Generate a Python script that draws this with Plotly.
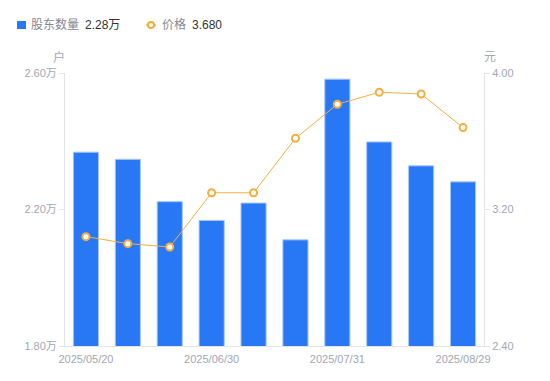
import plotly.graph_objects as go

dates = ["2025/05/20", "2025/05/30", "2025/06/10", "2025/06/30", "2025/07/10",
         "2025/07/20", "2025/07/31", "2025/08/10", "2025/08/20", "2025/08/29"]
holders = [2.368, 2.347, 2.223, 2.168, 2.219, 2.111, 2.582, 2.398, 2.328, 2.281]  # 万户
price = [3.041, 3.000, 2.980, 3.298, 3.298, 3.617, 3.817, 3.887, 3.877, 3.680]
tick_dates = ["2025/05/20", "2025/06/30", "2025/07/31", "2025/08/29"]
left_ticks = [1.80, 2.20, 2.60]
right_ticks = [2.40, 3.20, 4.00]
series_names = ["股东数量", "价格"]

FONT = "Liberation Sans, Noto Sans CJK SC, sans-serif"
BLUE = "#2878f5"
ORANGE = "#f6ad3f"
GRID = "#e3e4e8"
TICK = "#a3a6b4"

OFF = 8  # page body margin
W, H = 550 - OFF, 381 - OFF
L, R, T, B = 65 - OFF, 66, 73 - OFF, 35
PW, PH = W - L - R, H - T - B


def px(x):
    return (x - OFF - L) / PW


def py(y):
    return (H - B - (y - OFF)) / PH


fig = go.Figure()
fig.add_trace(go.Bar(
    x=dates, y=holders, width=0.6, name=series_names[0],
    marker=dict(color=BLUE, line=dict(color="#a8c6fa", width=1)),
    yaxis="y",
))
fig.add_trace(go.Scatter(
    x=dates, y=price, mode="lines+markers", name=series_names[1],
    line=dict(color=ORANGE, width=1),
    marker=dict(symbol="circle", size=7, color="white", line=dict(color=ORANGE, width=2)),
    yaxis="y2",
))

shapes = [
    dict(type="rect", xref="paper", yref="paper", x0=px(17), x1=px(26), y0=py(29), y1=py(21),
         fillcolor=BLUE, line=dict(width=0)),
    dict(type="line", xref="paper", yref="paper", x0=px(146), x1=px(156), y0=py(25), y1=py(25),
         line=dict(color=ORANGE, width=1.5)),
    dict(type="circle", xref="paper", yref="paper", x0=px(148), x1=px(154), y0=py(28), y1=py(22),
         fillcolor="white", line=dict(color=ORANGE, width=2)),
]


def leg(text, x, color):
    return dict(text=text, xref="paper", yref="paper", x=px(x), y=py(25), xanchor="left",
                yanchor="middle", showarrow=False, font=dict(size=12, color=color, family=FONT))


annotations = [
    leg(series_names[0], 29, "#858894"),
    leg("%.2f万" % holders[-1], 83, "#333333"),
    leg(series_names[1], 160, "#858894"),
    leg("%.3f" % price[-1], 190, "#333333"),
    dict(text="户", xref="paper", yref="paper", x=px(59), y=py(57), xanchor="center",
         yanchor="middle", showarrow=False, font=dict(size=12, color=TICK)),
    dict(text="元", xref="paper", yref="paper", x=px(490), y=py(57), xanchor="center",
         yanchor="middle", showarrow=False, font=dict(size=12, color=TICK)),
]

fig.update_layout(
    width=W, height=H,
    margin=dict(l=L, r=R, t=T, b=B, autoexpand=False),
    paper_bgcolor="white", plot_bgcolor="white",
    font=dict(family=FONT, size=11, color=TICK),
    showlegend=False,
    xaxis=dict(
        type="category", showgrid=False, showline=True, linecolor=GRID, linewidth=1,
        tickmode="array", tickvals=tick_dates, ticktext=tick_dates, automargin=False,
        ticks="", ticklabelstandoff=3, tickfont=dict(size=11, color=TICK), range=[-0.5, 9.5],
    ),
    yaxis=dict(
        range=[1.80, 2.60], tickmode="array", tickvals=left_ticks,
        ticktext=["%.2f万" % v for v in left_ticks], automargin=False,
        showgrid=False, zeroline=False, showline=True, linecolor=GRID, linewidth=1,
        ticks="outside", ticklen=5, tickcolor=GRID, tickfont=dict(size=11, color=TICK),
    ),
    yaxis2=dict(
        range=[2.40, 4.00], tickmode="array", tickvals=right_ticks,
        ticktext=["%.2f" % v for v in right_ticks], automargin=False,
        overlaying="y", side="right",
        showgrid=False, zeroline=False, showline=True, linecolor=GRID, linewidth=1,
        ticks="outside", ticklen=5, tickcolor=GRID, tickfont=dict(size=11, color=TICK),
    ),
    shapes=shapes,
    annotations=annotations,
)

fig.write_html("out.html")
